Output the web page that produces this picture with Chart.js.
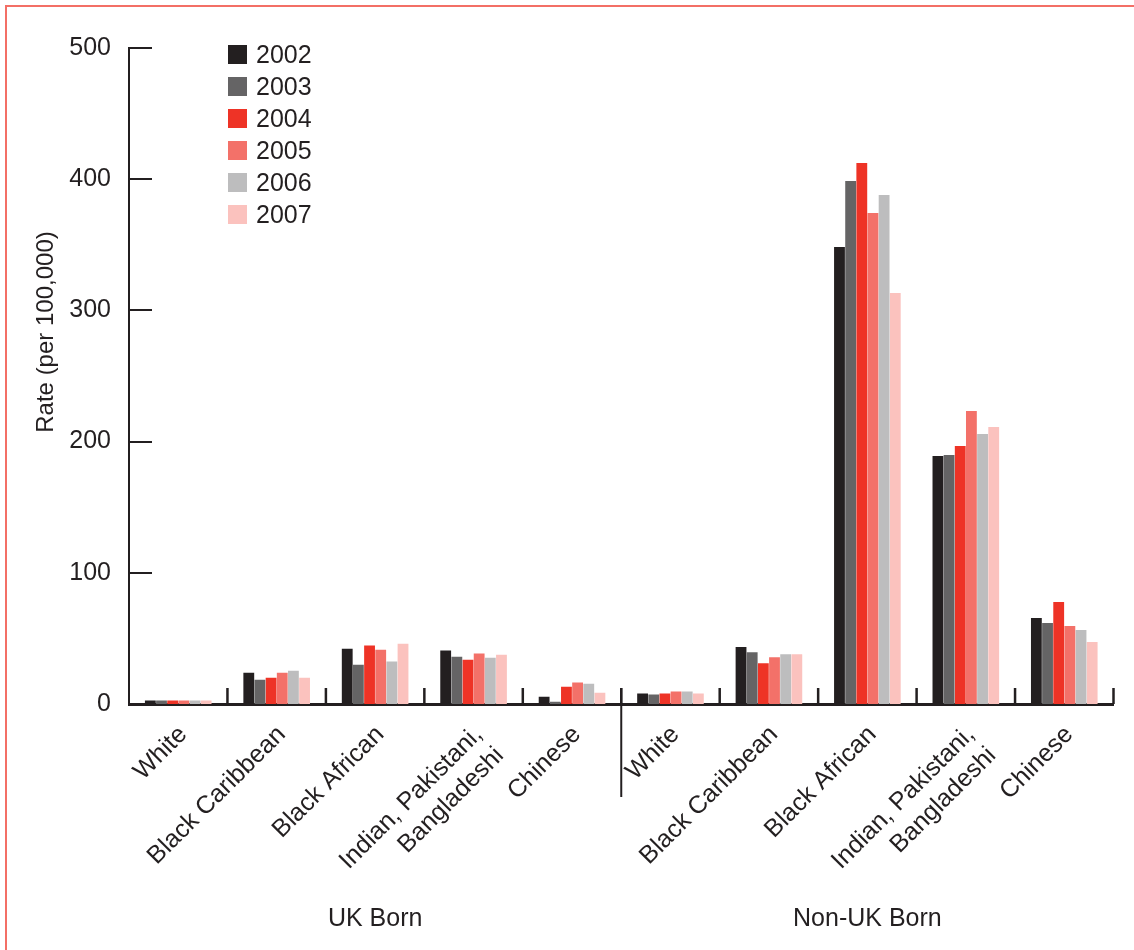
<!DOCTYPE html>
<html>
<head>
<meta charset="utf-8">
<script src="https://cdn.jsdelivr.net/npm/chart.js@4.4.0/dist/chart.umd.min.js"></script>
<style>
html,body{margin:0;padding:0;background:#fff;}
#wrap{position:relative;width:1134px;height:950px;overflow:hidden;background:#fff;}
#frame{position:absolute;left:5px;top:5px;width:1200px;height:1000px;border-left:2px solid #f36f66;border-top:2px solid #f36f66;pointer-events:none;}
canvas{position:absolute;left:0;top:0;}
#legend{position:absolute;left:228px;top:38px;font-family:'Liberation Sans',Arial,Helvetica,sans-serif;font-size:25px;color:#231f20;}
.item{height:32px;display:flex;align-items:center;}
.sw{width:19px;height:19px;margin-right:9px;flex:none;}
#ytitle{position:absolute;left:45px;top:332px;transform:translate(-50%,-50%) rotate(-90deg);white-space:nowrap;font-family:'Liberation Sans',Arial,Helvetica,sans-serif;font-size:24px;color:#231f20;}
</style>
</head>
<body>
<div id="wrap">
  <canvas id="c" width="1134" height="950"></canvas>
  <div id="legend"></div>
  <div id="ytitle"></div>
  <div id="frame"></div>
</div>
<script>
// ---- data ----
const categories = ['White', 'Black Caribbean', 'Black African', ['Indian, Pakistani,', 'Bangladeshi'], 'Chinese',
                    'White', 'Black Caribbean', 'Black African', ['Indian, Pakistani,', 'Bangladeshi'], 'Chinese'];
const groupLabels = ['UK Born', 'Non-UK Born'];
const years = ['2002', '2003', '2004', '2005', '2006', '2007'];
const yTicks = [0, 100, 200, 300, 400, 500];
const yTitle = 'Rate (per 100,000)';

const s2002 = [2.6, 23.9, 42.2, 40.7, 5.6, 8.0, 43.5, 348.3, 189.0, 65.5];
const s2003 = [2.6, 18.5, 30.0, 36.1, 1.8, 7.3, 39.5, 398.6, 189.8, 61.7];
const s2004 = [2.6, 20.1, 44.5, 33.8, 13.2, 8.0, 31.0, 412.3, 196.6, 77.7];
const s2005 = [2.6, 23.9, 41.4, 38.4, 16.3, 9.6, 35.7, 374.2, 223.3, 59.5];
const s2006 = [2.6, 25.4, 32.3, 35.3, 15.5, 9.6, 38.0, 388.0, 205.8, 56.4];
const s2007 = [2.6, 20.1, 46.0, 37.6, 8.6, 8.0, 38.0, 313.3, 211.1, 47.3];

const seriesValues = [s2002, s2003, s2004, s2005, s2006, s2007];
const colors = ['#231f20', '#656465', '#ee3326', '#f37169', '#bdbdbe', '#fbc2be'];

// ---- styling ----
const INK = '#231f20';
const FONT = "'Liberation Sans', Arial, Helvetica, sans-serif";
Chart.defaults.font.family = FONT;
Chart.defaults.color = INK;

document.getElementById('ytitle').textContent = yTitle;
const legendEl = document.getElementById('legend');
years.forEach((yr, i) => {
  const it = document.createElement('div');
  it.className = 'item';
  const sw = document.createElement('span');
  sw.className = 'sw';
  sw.style.background = colors[i];
  const tx = document.createElement('span');
  tx.textContent = yr;
  it.appendChild(sw); it.appendChild(tx);
  legendEl.appendChild(it);
});

const axisMarks = {
  id: 'axisMarks',
  afterDraw(chart) {
    const {ctx, chartArea: a, scales: {x, y}} = chart;
    ctx.save();
    ctx.strokeStyle = INK;
    // y ticks pointing inward
    ctx.lineWidth = 2;
    y.ticks.forEach(t => {
      if (t.value === 0) return;
      const py = Math.round(y.getPixelForValue(t.value));
      ctx.beginPath();
      ctx.moveTo(a.left, py);
      ctx.lineTo(a.left + 23, py);
      ctx.stroke();
    });
    // category boundary ticks pointing up
    ctx.lineWidth = 2.5;
    const n = categories.length;
    for (let i = 1; i <= n; i++) {
      const px = x.getPixelForValue(i - 0.5);
      ctx.beginPath();
      ctx.moveTo(px, a.bottom - 16);
      ctx.lineTo(px, a.bottom);
      ctx.stroke();
    }
    // divider between the two groups
    const dv = x.getPixelForValue(n / 2 - 0.5);
    ctx.lineWidth = 2;
    ctx.beginPath();
    ctx.moveTo(dv, a.bottom - 16);
    ctx.lineTo(dv, a.bottom + 93);
    ctx.stroke();
    ctx.restore();
  }
};

new Chart(document.getElementById('c'), {
  type: 'bar',
  data: {
    labels: categories,
    datasets: years.map((yr, i) => ({
      label: yr,
      data: seriesValues[i],
      backgroundColor: colors[i],
      borderWidth: 0,
      categoryPercentage: 0.68,
      barPercentage: 0.97
    }))
  },
  options: {
    responsive: false,
    animation: false,
    devicePixelRatio: 1,
    layout: {padding: {top: 48, right: 20.5, bottom: 0, left: 0}},
    plugins: {legend: {display: false}, tooltip: {enabled: false}},
    events: [],
    scales: {
      x: {
        type: 'category',
        position: 'bottom',
        offset: true,
        z: 1,
        grid: {display: false},
        border: {display: true, color: INK, width: 3},
        ticks: {
          autoSkip: false,
          minRotation: 45,
          maxRotation: 45,
          padding: 8,
          labelOffset: 5,
          color: INK,
          font: {size: 25, family: FONT}
        },
        afterFit(s) { s.height = 190; }
      },
      x2: {
        type: 'category',
        position: 'bottom',
        labels: groupLabels,
        offset: true,
        grid: {display: false},
        border: {display: false},
        ticks: {padding: 2, color: INK, font: {size: 25, family: FONT}, maxRotation: 0, minRotation: 0},
        afterFit(s) { s.height = 56; }
      },
      y: {
        min: 0,
        max: 500,
        afterBuildTicks(s) { s.ticks = yTicks.map(v => ({value: v})); },
        grid: {display: false},
        border: {display: true, color: INK, width: 2},
        ticks: {padding: 10, color: INK, font: {size: 25, family: FONT}},
        afterFit(s) { s.width = 129; }
      }
    }
  },
  plugins: [axisMarks]
});
</script>
</body>
</html>
